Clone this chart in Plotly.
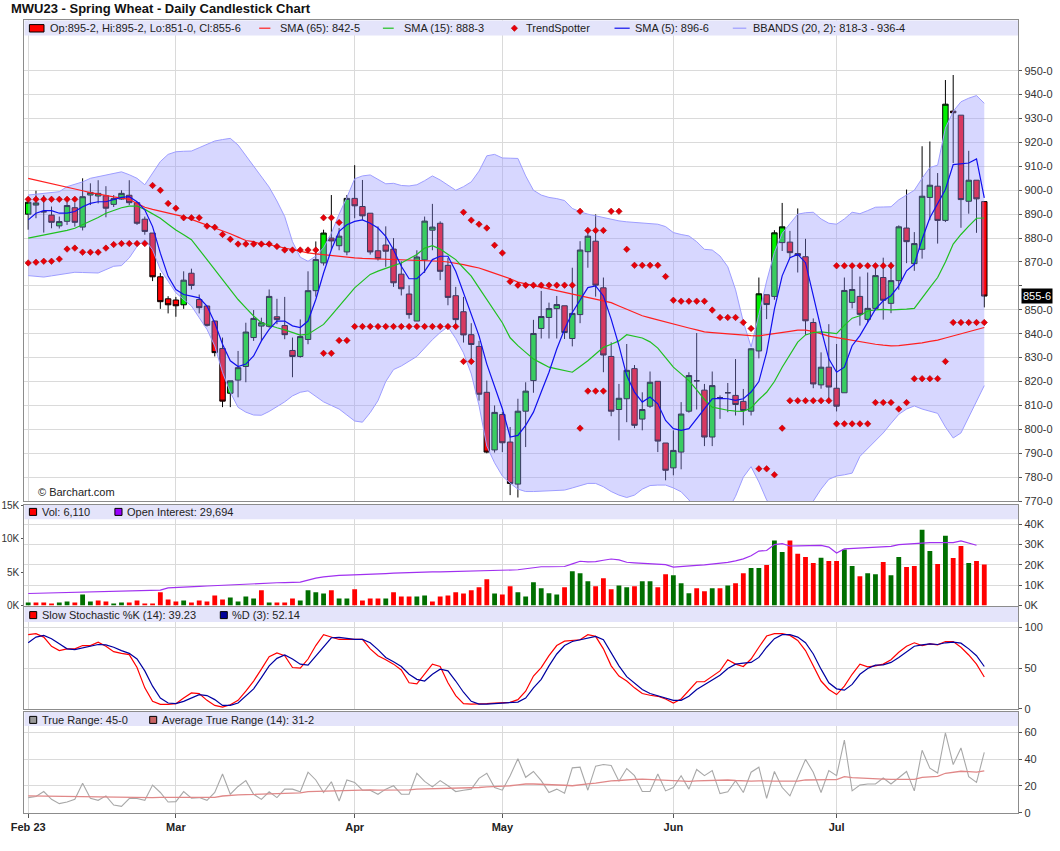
import plotly.graph_objects as go

# ---------------- data ----------------
title = "MWU23 - Spring Wheat - Daily Candlestick Chart"
month_labels = ["Feb 23", "Mar", "Apr", "May", "Jun", "Jul"]
month_index = [0, 19, 42, 61, 83, 104]
price_ticks = [770, 780, 790, 800, 810, 820, 830, 840, 850, 860, 870, 880, 890, 900, 910, 920, 930, 940, 950]

opens = [890.0, 893.8, 891.0, 889.6, 885.1, 887.0, 892.7, 884.6, 898.0, 897.6,
         897.7, 894.1, 896.3, 897.9, 894.8, 887.9, 882.1, 863.8, 854.6, 854.1,
         852.1, 865.3, 854.3, 851.6, 845.3, 833.8, 815.1, 820.6, 826.3, 838.4,
         843.2, 843.1, 847.1, 843.4, 833.0, 830.5, 837.6, 858.0, 869.6, 880.0,
         876.8, 874.2, 896.6, 893.2, 890.4, 874.7, 877.1, 875.4, 864.9, 856.6,
         845.3, 870.9, 883.3, 886.2, 868.6, 855.9, 849.2, 839.6, 834.7, 815.5,
         791.4, 806.2, 794.7, 777.1, 807.6, 820.4, 842.2, 846.8, 850.5, 851.7,
         838.0, 848.0, 874.3, 878.7, 859.2, 830.5, 808.3, 812.8, 825.4, 804.3,
         809.7, 820.1, 794.3, 783.9, 790.5, 807.6, 820.3, 816.4, 796.8, 813.3,
         815.3, 814.2, 811.7, 807.6, 832.8, 856.3, 855.6, 878.1, 878.3, 873.5,
         872.2, 844.7, 818.6, 826.0, 817.2, 815.3, 853.1, 855.6, 846.0, 850.6,
         863.5, 852.7, 862.2, 884.2, 869.3, 875.3, 897.0, 901.7, 887.4, 933.1,
         931.4, 895.4, 904.2, 895.25]
highs = [895.5, 899.8, 898.0, 893.2, 889.0, 895.0, 894.8, 905.0, 902.9, 904.2,
         901.7, 898.0, 900.0, 904.2, 894.8, 889.0, 882.1, 865.4, 855.7, 855.4,
         866.1, 867.2, 856.4, 851.6, 845.5, 838.4, 820.3, 832.8, 844.6, 849.9,
         846.7, 858.5, 854.6, 855.4, 838.4, 846.0, 866.1, 878.6, 883.5, 898.0,
         884.2, 898.0, 910.5, 904.3, 890.4, 884.9, 884.9, 880.0, 870.3, 860.2,
         874.9, 889.0, 894.3, 887.0, 871.7, 859.6, 855.4, 844.4, 837.0, 820.4,
         810.0, 807.2, 801.0, 812.8, 819.7, 845.8, 857.9, 853.0, 855.8, 851.7,
         867.6, 878.7, 884.3, 889.9, 863.5, 836.4, 819.0, 835.7, 826.9, 815.5,
         824.2, 820.1, 794.3, 799.6, 811.4, 823.9, 840.3, 819.0, 824.2, 814.2,
         819.4, 829.4, 816.9, 834.0, 863.5, 856.3, 883.3, 894.7, 883.0, 892.4,
         879.7, 846.4, 832.2, 844.0, 835.7, 863.5, 867.0, 863.9, 865.6, 869.5,
         871.8, 870.0, 885.3, 900.3, 882.5, 918.4, 920.4, 907.2, 946.1, 948.2,
         931.4, 916.5, 904.2, 895.25]
lows = [883.5, 888.3, 882.3, 884.1, 884.0, 885.5, 884.8, 883.2, 893.8, 894.5,
        888.7, 893.0, 896.0, 893.8, 885.5, 881.4, 862.0, 850.4, 848.5, 847.1,
        850.4, 858.5, 848.5, 843.0, 830.5, 809.3, 809.3, 813.4, 819.7, 837.0,
        837.0, 842.5, 844.0, 837.7, 821.8, 830.0, 835.6, 855.5, 868.5, 874.9,
        874.9, 872.8, 888.3, 887.6, 873.1, 870.6, 868.0, 859.6, 856.0, 846.3,
        845.3, 865.4, 874.9, 862.4, 851.9, 843.0, 836.3, 829.1, 812.0, 790.0,
        790.3, 790.5, 772.5, 771.5, 792.6, 815.3, 838.0, 838.0, 838.0, 837.8,
        834.7, 844.4, 867.6, 855.5, 823.9, 805.5, 795.4, 803.0, 800.5, 799.6,
        809.0, 790.5, 778.7, 780.8, 783.3, 807.0, 808.3, 793.0, 793.0, 804.4,
        807.2, 805.8, 801.7, 805.8, 829.7, 846.1, 854.2, 874.6, 871.7, 865.6,
        839.5, 817.2, 817.0, 811.4, 807.5, 815.3, 850.6, 843.4, 844.7, 850.0,
        845.9, 848.6, 858.4, 869.5, 866.3, 871.4, 887.5, 877.7, 886.7, 911.4,
        884.3, 890.2, 882.2, 851.0]
closes = [895.0, 894.7, 891.0, 886.6, 886.9, 893.6, 886.6, 897.3, 899.1, 898.7,
          892.5, 896.5, 898.7, 894.8, 886.2, 882.8, 863.8, 853.4, 852.1, 851.7,
          862.4, 860.2, 850.9, 843.5, 832.1, 811.8, 820.3, 825.8, 840.7, 846.4,
          844.6, 855.6, 845.9, 839.6, 830.5, 838.8, 858.0, 871.0, 882.1, 878.8,
          880.8, 896.6, 893.5, 889.3, 874.2, 871.4, 874.5, 861.3, 858.8, 848.0,
          872.1, 887.1, 884.6, 866.1, 855.2, 845.9, 839.5, 835.5, 814.7, 790.5,
          807.1, 794.4, 777.4, 807.6, 816.0, 840.1, 847.2, 850.5, 852.2, 840.5,
          848.5, 875.0, 880.8, 860.3, 831.1, 807.6, 813.0, 824.7, 801.7, 808.3,
          819.7, 795.1, 782.9, 791.2, 806.4, 822.5, 820.3, 796.8, 818.3, 813.3,
          815.3, 810.4, 807.9, 833.7, 856.7, 852.2, 882.2, 884.7, 873.9, 872.7,
          845.4, 819.0, 826.0, 817.7, 809.7, 858.1, 858.5, 848.1, 850.6, 864.3,
          854.0, 862.2, 884.7, 878.5, 877.7, 897.5, 902.1, 887.4, 936.0, 932.4,
          896.1, 904.2, 896.4, 855.75]

sma5 = [887.6, 890.4, 891.5, 891.5, 890.4, 890.4, 891.1, 893.1, 894.5, 895.2,
        895.2, 896.2, 897.0, 897.3, 895.2, 891.8, 884.8, 873.7, 864.0, 858.5,
        856.4, 855.7, 855.0, 851.6, 844.6, 835.6, 828.7, 826.3, 827.3, 830.7,
        837.0, 841.8, 845.3, 845.3, 843.3, 842.6, 845.3, 854.3, 865.4, 875.1,
        882.8, 885.6, 887.0, 887.6, 886.2, 884.2, 880.7, 875.1, 868.2, 863.0,
        863.0, 866.1, 871.0, 872.4, 872.4, 866.1, 857.1, 848.1, 839.1, 827.3,
        818.3, 808.6, 796.8, 797.5, 801.7, 807.2, 815.6, 823.9, 833.6, 841.9,
        848.9, 854.4, 859.3, 860.0, 855.8, 846.1, 835.0, 822.5, 815.6, 811.4,
        813.5, 810.7, 803.7, 800.3, 799.6, 800.3, 804.4, 808.6, 812.8, 813.0,
        812.8, 812.1, 812.8, 815.6, 820.0, 832.2, 850.3, 864.2, 871.8, 873.2,
        869.7, 855.9, 842.0, 829.5, 823.9, 826.0, 835.0, 839.2, 844.7, 850.3,
        853.8, 855.9, 860.0, 866.3, 869.1, 879.5, 888.5, 894.7, 900.3, 910.7,
        911.1, 911.4, 913.1, 896.8]
sma15 = [880.0, 880.6, 881.2, 881.7, 882.3, 883.2, 884.1, 885.5, 886.9, 888.6,
         890.4, 891.6, 892.7, 893.4, 893.4, 892.0, 890.2, 888.3, 885.8, 883.4,
         881.4, 879.3, 875.2, 871.0, 866.8, 862.6, 858.5, 854.3, 850.8, 847.4,
         844.6, 843.4, 842.5, 841.6, 840.5, 839.4, 839.8, 841.8, 843.9, 847.7,
         851.6, 855.4, 859.2, 862.0, 864.8, 866.2, 867.5, 868.5, 869.6, 871.3,
         873.1, 875.8, 876.8, 875.4, 873.2, 871.0, 867.5, 864.1, 859.2, 854.3,
         849.5, 844.6, 838.3, 835.0, 832.2, 829.4, 827.7, 826.0, 825.3, 824.6,
         823.9, 826.3, 828.7, 831.5, 834.3, 835.6, 837.0, 839.6, 839.0, 838.2,
         836.6, 834.0, 830.0, 826.0, 823.2, 820.4, 816.5, 812.5, 809.3, 808.5,
         808.0, 807.6, 807.5, 809.0, 812.5, 815.5, 820.0, 826.0, 831.5, 836.5,
         839.5, 840.5, 840.8, 840.3, 840.0, 843.5, 846.5, 847.5, 849.5, 850.0,
         850.2, 850.0, 850.0, 850.3, 850.6, 855.2, 859.3, 863.5, 870.0, 877.5,
         881.5, 885.0, 888.3, 888.4]
sma65 = [905.0, 904.3, 903.5, 902.6, 902.0, 901.3, 900.6, 899.8, 899.0, 898.3,
         897.7, 897.2, 896.7, 896.2, 894.5, 892.9, 892.0, 891.2, 890.4, 889.7,
         889.0, 887.8, 886.6, 885.4, 884.3, 883.2, 881.8, 880.4, 879.0, 878.5,
         877.5, 877.2, 876.5, 875.8, 875.0, 874.4, 873.8, 873.4, 873.0, 872.6,
         872.3, 872.0, 871.7, 871.5, 871.4, 871.3, 871.2, 871.0, 870.9, 870.8,
         870.7, 870.7, 870.6, 870.3, 870.0, 869.6, 868.9, 868.2, 867.5, 866.4,
         865.3, 864.2, 863.0, 861.6, 860.9, 860.2, 859.4, 858.6, 857.9, 857.2,
         856.5, 855.8, 855.1, 854.4, 853.7, 853.0, 851.6, 850.2, 848.9, 847.5,
         846.6, 845.7, 844.9, 844.0, 843.2, 842.4, 841.6, 840.8, 840.5, 840.2,
         839.9, 839.6, 839.4, 839.2, 839.1, 839.5, 840.0, 840.5, 841.0, 841.5,
         841.5, 841.0, 840.0, 839.0, 838.4, 837.8, 837.2, 836.6, 836.0, 835.6,
         835.2, 834.9, 835.0, 835.3, 835.7, 836.2, 836.8, 837.3, 838.2, 839.1,
         840.0, 840.9, 841.7, 842.6]
bb_upper = [898.0, 898.3, 898.7, 899.0, 899.4, 901.5, 902.5, 903.5, 905.0, 905.6,
            906.3, 907.0, 907.7, 906.5, 905.0, 902.3, 907.0, 912.0, 915.0, 916.1,
            916.3, 916.4, 917.8, 919.2, 920.6, 921.2, 921.7, 918.9, 914.5, 910.0,
            906.0, 901.3, 895.5, 889.0, 878.5, 872.0, 870.3, 872.5, 876.0, 882.0,
            890.0, 897.0, 904.8, 906.0, 906.4, 904.5, 902.7, 902.9, 902.0, 901.8,
            902.3, 904.0, 906.0, 904.3, 902.0, 900.0, 901.5, 903.5, 908.0, 914.4,
            915.0, 913.5, 913.4, 913.3, 906.0, 900.0, 898.0, 897.0, 896.5, 895.7,
            892.4, 891.0, 890.0, 889.3, 888.5, 887.8, 887.2, 886.8, 886.5, 886.2,
            886.0, 885.8, 884.8, 882.3, 881.5, 880.9, 878.5, 875.3, 875.0, 872.5,
            868.0, 858.4, 845.0, 834.5, 848.0, 862.0, 874.0, 882.0, 886.0, 890.0,
            890.6, 890.8, 888.0, 886.2, 885.8, 888.0, 890.8, 890.2, 891.5, 892.9,
            893.0, 893.1, 896.0, 898.0, 900.0, 905.0, 909.5, 910.5, 926.0, 933.0,
            937.0, 938.5, 939.6, 936.4]
bb_lower = [864.3, 864.0, 863.7, 864.2, 864.7, 865.2, 865.7, 865.6, 865.5, 865.4,
            866.8, 868.2, 868.5, 871.7, 876.5, 879.3, 875.1, 866.8, 862.0, 857.1,
            854.3, 851.6, 846.7, 841.8, 834.9, 823.8, 815.5, 809.2, 807.2, 806.0,
            805.9, 807.5, 809.5, 811.5, 814.0, 815.5, 816.1, 813.8, 811.5, 810.0,
            808.5, 806.0, 803.5, 803.0, 807.0, 812.0, 820.0, 825.0, 826.5, 828.5,
            830.5, 834.0, 837.5, 840.5, 842.9, 838.0, 832.0, 823.2, 810.0, 793.0,
            786.0, 780.5, 777.5, 775.0, 774.0, 774.0, 774.2, 774.4, 774.6, 774.6,
            775.5, 776.5, 777.4, 777.4, 776.0, 774.0, 772.5, 771.5, 772.5, 775.0,
            776.5, 776.7, 776.7, 775.5, 773.9, 770.5, 766.0, 763.0, 762.0, 763.0,
            766.0, 772.0, 780.0, 784.4, 778.0, 770.5, 766.0, 763.0, 762.0, 763.0,
            766.0, 770.0, 775.0, 779.1, 780.5, 781.0, 781.7, 788.7, 792.0, 795.5,
            798.5, 802.5, 806.3, 808.5, 809.8, 808.5, 807.7, 806.7, 801.0, 796.4,
            798.5, 805.0, 812.0, 818.3]

ts_x = [0, 1, 2, 3, 4, 5, 6,
        0, 1, 2, 3, 4,
        5, 6, 7, 8, 9, 10, 11, 12, 13, 14, 15,
        16, 17, 18, 19, 20, 21, 22, 23, 24, 25, 26, 27, 28, 29, 30, 31, 32, 33, 34, 35, 36, 37,
        38, 39, 40,
        38, 39, 40, 41,
        42, 43, 44, 45, 46, 47, 48, 49, 50, 51, 52, 53, 54, 55,
        56, 57, 58, 59, 60, 61, 62,
        56, 57,
        63, 64, 65, 66, 67, 68, 69, 70,
        71, 72, 73, 74, 75, 76,
        71, 72, 73, 74,
        77, 78, 79, 80, 81, 82, 83, 84, 85, 86, 87, 88, 89, 90, 91, 92, 93,
        94, 95, 96, 97,
        98, 99, 100, 101, 102, 103,
        104, 105, 106, 107, 108, 109, 110, 111,
        104, 105, 106, 107, 108,
        109, 110, 111, 112, 113,
        114, 115, 116, 117, 118, 119, 120, 121, 122, 123]
ts_y = [896.2, 896.2, 896.2, 896.2, 896.2, 896.2, 896.2,
        869.6, 869.9, 870.3, 870.3, 871.2,
        875.4, 875.8, 874.1, 874.1, 874.1, 875.8, 877.3, 877.7, 877.7, 877.7, 877.7,
        902.0, 900.0, 894.5, 892.5, 888.5, 888.5, 888.5, 885.0, 884.5, 881.5, 879.5,
        877.5, 877.5, 877.5, 877.5, 877.5, 876.5, 875.0, 875.0, 875.0, 875.0, 875.0,
        888.5, 888.5, 886.5,
        831.8, 831.8, 837.2, 837.2,
        843.0, 843.0, 843.0, 843.0, 843.0, 843.0, 843.0, 843.0, 843.0, 843.0, 843.0, 843.0, 843.0, 843.0,
        890.8, 887.5, 885.8, 884.2, 877.0, 873.8, 861.8,
        828.4, 828.4,
        860.3, 860.3, 860.3, 860.3, 860.3, 860.3, 860.3, 860.3,
        891.2, 883.2, 883.2, 883.2, 891.2, 891.2,
        800.5, 816.0, 816.0, 816.0,
        875.3, 868.6, 868.6, 868.6, 868.6, 863.9, 854.0, 853.6, 853.6, 853.6, 853.6,
        849.9, 846.8, 846.8, 846.8, 844.7, 842.2,
        783.5, 783.5, 781.0, 800.5,
        812.0, 812.0, 812.0, 812.0, 812.0, 812.0,
        868.4, 868.4, 868.4, 868.4, 868.4, 868.4, 868.4, 868.4,
        802.3, 802.3, 802.3, 802.3, 802.3,
        811.2, 811.2, 811.2, 808.5, 811.2,
        821.2, 821.2, 821.2, 821.2, 828.4, 844.7, 844.7, 844.7, 844.7, 844.7]

volume_k = [0.45, 0.45, 0.45, 0.3, 0.45, 0.6, 0.45, 1.66, 0.6, 0.75,
            0.6, 0.3, 0.45, 0.45, 0.75, 0.3, 0.3, 1.96, 0.9, 0.6,
            0.75, 0.45, 0.75, 0.6, 1.5, 0.9, 1.2, 0.6, 1.36, 1.05,
            2.26, 0.45, 0.45, 0.45, 1.05, 0.75, 2.26, 1.96, 1.8, 2.26,
            1.05, 1.05, 2.41, 0.75, 1.05, 1.05, 1.05, 1.96, 1.36, 1.36,
            1.36, 1.5, 0.6, 1.36, 1.5, 1.96, 1.8, 2.26, 2.71, 3.9,
            1.8, 1.66, 2.86, 1.96, 1.36, 3.47, 2.56, 1.81, 1.66, 2.71,
            5.13, 4.82, 3.62, 2.86, 4.07, 2.41, 3.0, 2.71, 2.86, 3.62,
            3.62, 2.71, 4.67, 4.52, 3.32, 1.81, 2.56, 2.11, 2.56, 2.56,
            3.0, 3.32, 4.82, 5.58, 5.58, 6.03, 9.7, 7.99, 9.7, 7.74,
            7.24, 6.33, 7.14, 6.63, 6.63, 8.34, 5.88, 4.37, 4.82, 4.67,
            6.48, 4.52, 7.24, 5.73, 5.88, 11.3, 8.14, 6.18, 10.4, 7.09,
            8.89, 6.33, 6.63, 6.11]
open_interest_k = [5.9, 6.0, 6.1, 6.2, 6.3, 6.4, 6.5, 6.6, 6.7, 6.8,
                   6.9, 7.0, 7.1, 7.2, 7.3, 7.4, 7.5, 7.6, 8.7, 8.8,
                   9.0, 9.2, 9.4, 9.6, 9.8, 9.9, 10.1, 10.4, 10.7, 10.9,
                   11.0, 11.1, 11.2, 11.3, 11.4, 11.5, 12.5, 13.5, 14.1, 14.6,
                   14.8, 15.0, 15.1, 15.2, 15.2, 15.4, 15.7, 15.9, 16.1, 16.3,
                   16.5, 16.6, 16.6, 16.6, 16.7, 16.7, 16.8, 16.8, 16.9, 16.9,
                   17.0, 17.1, 17.3, 17.6, 18.1, 18.6, 19.1, 19.1, 19.2, 19.2,
                   20.5, 21.8, 21.5, 21.6, 22.3, 22.9, 22.5, 21.3, 21.0, 20.8,
                   20.6, 20.3, 20.1, 18.9, 19.3, 19.6, 19.8, 20.0, 20.3, 20.7,
                   21.2, 22.0, 23.0, 24.5, 26.8, 27.1, 30.0, 30.5, 29.3, 29.4,
                   29.5, 29.6, 29.6, 28.8, 25.9, 27.9, 28.1, 28.3, 28.5, 28.7,
                   28.9, 29.1, 30.0, 30.3, 30.7, 31.0, 31.0, 31.0, 31.0, 31.0,
                   31.8, 30.8, 29.7, None]

stoch_k = [91.3, 92.5, 88.3, 77.0, 71.7, 73.8, 73.8, 77.9, 77.9, 82.0,
           77.0, 70.4, 68.3, 66.7, 50.8, 25.8, 9.2, 5.4, 5.4, 6.3,
           13.3, 19.6, 18.8, 10.4, 4.2, 2.1, 5.0, 10.4, 21.7, 34.2,
           48.8, 64.2, 68.8, 65.4, 50.8, 50.0, 61.3, 77.9, 91.3, 88.3,
           85.4, 85.4, 85.4, 85.4, 73.8, 65.4, 60.4, 55.0, 47.9, 32.1,
           30.8, 42.5, 55.0, 52.1, 32.1, 16.3, 6.3, 5.8, 5.8, 6.3,
           7.1, 7.1, 7.9, 11.3, 21.7, 40.4, 50.8, 65.4, 77.9, 83.3,
           84.2, 85.0, 91.3, 89.2, 73.8, 52.9, 40.4, 34.2, 25.8, 18.8,
           16.7, 15.4, 12.1, 7.1, 12.1, 22.5, 33.3, 33.3, 40.4, 46.7,
           60.4, 55.0, 52.1, 61.3, 75.8, 89.6, 92.5, 92.5, 90.4, 84.2,
           71.7, 52.9, 34.2, 23.8, 17.5, 27.9, 42.5, 55.0, 51.7, 52.9,
           55.0, 60.4, 69.6, 77.0, 81.3, 77.9, 80.0, 78.8, 82.9, 82.9,
           75.8, 66.3, 55.0, 39.2]
stoch_d = [81.3, 88.3, 90.4, 86.3, 80.0, 73.8, 72.9, 75.0, 76.7, 79.2,
           78.8, 75.8, 71.7, 68.3, 61.3, 46.7, 27.9, 13.3, 7.1, 6.3,
           9.2, 13.3, 17.5, 16.3, 11.3, 4.2, 4.2, 7.1, 15.4, 24.6,
           38.3, 52.9, 62.1, 66.3, 61.3, 55.0, 53.8, 65.4, 77.0, 87.5,
           87.9, 86.3, 85.4, 85.4, 81.3, 72.9, 63.3, 57.9, 52.1, 42.5,
           36.3, 34.2, 42.5, 48.8, 46.7, 34.2, 20.4, 9.2, 5.8, 5.8,
           6.3, 7.1, 7.1, 8.3, 13.3, 25.8, 36.3, 52.9, 67.5, 77.9,
           82.9, 85.0, 87.5, 89.2, 85.0, 69.6, 52.9, 39.6, 31.3, 23.8,
           18.8, 16.3, 13.3, 10.4, 10.4, 15.4, 23.8, 30.0, 35.4, 41.3,
           49.6, 55.0, 56.3, 57.1, 63.3, 75.8, 86.3, 91.3, 91.3, 88.3,
           81.3, 67.5, 48.8, 32.1, 24.6, 22.9, 30.0, 42.5, 49.6, 53.8,
           54.2, 57.1, 63.3, 70.4, 77.0, 78.8, 80.0, 79.2, 81.3, 82.1,
           80.8, 73.8, 65.4, 52.1]

true_range = [11.3, 12.1, 15.8, 10.0, 6.8, 8.0, 10.0, 21.9, 10.8, 9.3,
              12.6, 5.8, 4.8, 10.6, 10.6, 9.3, 20.6, 15.1, 8.0, 8.3,
              15.8, 10.8, 11.3, 9.3, 15.1, 28.9, 13.8, 19.6, 23.9, 13.8,
              10.0, 15.6, 11.3, 17.6, 17.6, 15.6, 30.2, 24.4, 15.1, 23.1,
              8.8, 24.4, 22.6, 16.8, 16.8, 13.8, 17.6, 20.1, 13.8, 13.8,
              29.4, 23.4, 19.3, 23.9, 20.1, 15.8, 16.8, 17.6, 25.6, 29.4,
              18.8, 16.8, 27.6, 40.2, 26.4, 30.7, 23.9, 15.1, 17.6, 14.6,
              33.4, 33.9, 16.8, 34.7, 35.9, 35.2, 23.4, 32.9, 27.6, 15.8,
              15.8, 28.9, 16.3, 18.8, 27.6, 17.6, 32.2, 27.6, 31.4, 14.3,
              15.6, 23.9, 15.1, 30.2, 33.9, 10.8, 30.7, 18.8, 12.6, 26.4,
              39.7, 30.2, 15.1, 31.4, 27.6, 54.0, 16.3, 20.6, 21.4, 21.4,
              25.9, 21.4, 25.9, 30.7, 16.3, 46.5, 33.2, 29.6, 59.5, 35.9,
              48.2, 26.9, 22.6, 45.0]
avg_true_range = [12.6, 12.5, 12.5, 12.4, 12.3, 12.2, 12.1, 12.1, 12.0, 11.9,
                  11.8, 11.7, 11.6, 11.5, 11.4, 11.3, 11.3, 11.4, 11.4, 11.4,
                  11.3, 11.3, 11.3, 11.3, 11.5, 12.5, 13.1, 13.3, 13.5, 13.7,
                  13.8, 14.0, 14.2, 14.4, 14.6, 14.8, 15.8, 16.0, 16.2, 16.5,
                  16.5, 16.7, 16.8, 16.9, 17.0, 16.9, 16.9, 17.0, 17.0, 17.1,
                  17.6, 17.7, 17.8, 17.9, 18.0, 18.1, 18.3, 18.5, 18.8, 19.3,
                  19.5, 19.6, 20.1, 20.8, 21.4, 21.4, 21.3, 21.0, 20.8, 20.5,
                  20.1, 21.0, 21.5, 22.1, 23.0, 23.8, 24.0, 24.6, 24.8, 25.1,
                  24.8, 24.6, 23.9, 23.6, 23.5, 23.4, 23.8, 24.0, 24.4, 24.2,
                  24.4, 24.0, 23.6, 23.6, 23.8, 23.4, 23.5, 23.6, 23.3, 23.5,
                  24.4, 24.6, 24.4, 24.6, 24.6, 26.9, 26.2, 25.8, 25.5, 25.3,
                  25.1, 24.9, 24.8, 24.4, 24.8, 26.4, 26.8, 27.1, 29.4, 30.0,
                  30.9, 30.6, 30.2, 31.2]

legend_ohlc = "Op:895-2, Hi:895-2, Lo:851-0, Cl:855-6"
legend_sma65 = "SMA (65): 842-5"
legend_sma15 = "SMA (15): 888-3"
legend_sma5 = "SMA (5): 896-6"
legend_bb = "BBANDS (20, 2): 818-3 - 936-4"
legend_vol = "Vol: 6,110"
legend_oi = "Open Interest: 29,694"
legend_k = "Slow Stochastic %K (14): 39.23"
legend_d = "%D (3): 52.14"
legend_tr = "True Range: 45-0"
legend_atr = "Average True Range (14): 31-2"
last_price_label = "855-6"
last_price = 855.75

# ---------------- layout geometry (pixels) ----------------
W, H = 1060, 851
FONT = "Liberation Sans, Arial, sans-serif"
GRID = "#dadada"
FRAME = "#8c8c8c"
BAND = "#e4e4fa"

X0, X1 = 24.3, 1018.3          # plot frame left/right
C0, DX = 28.2, 7.773           # first candle centre, candle spacing
x_rng = [(X0 - C0) / DX, (X1 - C0) / DX]

def dom(top, bot):
    return [1 - bot / H, 1 - top / H]

def rng(top, bot, va, pa, vb, pb):
    ppu = (pb - pa) / (va - vb)
    return [vb - (bot - pb) / ppu, va + (pa - top) / ppu], ppu

MAIN = (20.3, 501.1)
VOL = (504.5, 605.5)
STO = (607.0, 708.8)
TRP = (712.0, 812.8)

main_rng, main_ppu = rng(*MAIN, 950, 70.7, 770, 501.1)
vol_rng, vol_ppu = rng(*VOL, 15, 505.0, 0, 605.5)
oi_rng, oi_ppu = rng(*VOL, 40, 524.3, 0, 605.5)
sto_rng, sto_ppu = rng(*STO, 100, 627.6, 0, 708.8)
tr_rng, tr_ppu = rng(*TRP, 60, 732.1, 0, 812.8)

idx = list(range(len(closes)))

fig = go.Figure()

# ---- main panel ----
fig.add_trace(go.Scatter(x=idx, y=bb_lower, mode="lines", line=dict(color="#9d9dff", width=1),
                         xaxis="x", yaxis="y", hoverinfo="skip"))
fig.add_trace(go.Scatter(x=idx, y=bb_upper, mode="lines", line=dict(color="#9d9dff", width=1),
                         fill="tonexty", fillcolor="rgba(150,150,255,0.38)",
                         xaxis="x", yaxis="y", hoverinfo="skip"))
fig.add_trace(go.Candlestick(x=idx, open=opens, high=highs, low=lows, close=closes,
                             increasing=dict(fillcolor="#00ee00", line=dict(color="#000000", width=1)),
                             decreasing=dict(fillcolor="#ff0000", line=dict(color="#000000", width=1)),
                             whiskerwidth=0, xaxis="x", yaxis="y", hoverinfo="skip"))
fig.add_trace(go.Scatter(x=idx, y=sma65, mode="lines", line=dict(color="#ff2020", width=1.2),
                         xaxis="x", yaxis="y", hoverinfo="skip"))
fig.add_trace(go.Scatter(x=idx, y=sma15, mode="lines", line=dict(color="#20c020", width=1.2),
                         xaxis="x", yaxis="y", hoverinfo="skip"))
fig.add_trace(go.Scatter(x=idx, y=sma5, mode="lines", line=dict(color="#1010ee", width=1.2),
                         xaxis="x", yaxis="y", hoverinfo="skip"))
fig.add_trace(go.Scatter(x=ts_x, y=ts_y, mode="markers",
                         marker=dict(symbol="diamond", size=5, color="#e8000a",
                                     line=dict(color="#a00000", width=0.5)),
                         xaxis="x", yaxis="y", hoverinfo="skip"))

# ---- volume panel ----
vol_colors = ["#006f00"] + ["#006f00" if closes[i] >= closes[i - 1] else "#ff0000" for i in range(1, len(closes))]
fig.add_trace(go.Bar(x=idx, y=volume_k, marker=dict(color=vol_colors, line=dict(width=0)), width=0.62,
                     xaxis="x2", yaxis="y2", hoverinfo="skip"))
fig.add_trace(go.Scatter(x=idx, y=open_interest_k, mode="lines", line=dict(color="#a030f0", width=1.2),
                         xaxis="x2", yaxis="y3", hoverinfo="skip"))

# ---- stochastic panel ----
fig.add_trace(go.Scatter(x=idx, y=stoch_k, mode="lines", line=dict(color="#ff0000", width=1.2),
                         xaxis="x3", yaxis="y4", hoverinfo="skip"))
fig.add_trace(go.Scatter(x=idx, y=stoch_d, mode="lines", line=dict(color="#0000a0", width=1.2),
                         xaxis="x3", yaxis="y4", hoverinfo="skip"))

# ---- true range panel ----
fig.add_trace(go.Scatter(x=idx, y=true_range, mode="lines", line=dict(color="#a8a8a8", width=1.1),
                         xaxis="x4", yaxis="y5", hoverinfo="skip"))
fig.add_trace(go.Scatter(x=idx, y=avg_true_range, mode="lines", line=dict(color="#e08888", width=1.3),
                         xaxis="x4", yaxis="y5", hoverinfo="skip"))

# ---------------- axes ----------------
tickfont = dict(family=FONT, size=11, color="#333333")
xdom = [X0 / W, X1 / W]

def xaxis(anchor, labels=False):
    d = dict(domain=xdom, range=x_rng, anchor=anchor, tickmode="array", tickvals=month_index,
             showgrid=True, gridcolor=GRID, gridwidth=1, zeroline=False, automargin=False,
             showline=True, mirror=True, linecolor=FRAME, linewidth=1,
             fixedrange=True, rangeslider=dict(visible=False))
    if labels:
        d.update(ticktext=["<b>%s</b>" % m for m in month_labels], ticks="outside", ticklen=4,
                 tickcolor="#555555", tickfont=dict(family=FONT, size=11, color="#222222"))
    else:
        d.update(showticklabels=False, ticks="")
    return d

def yaxis(anchor, dm, r, tv, tt, side="right", grid=True, font=tickfont, ticklen=3):
    return dict(domain=dm, range=r, anchor=anchor, side=side, tickmode="array", tickvals=tv, ticktext=tt,
                showgrid=grid, gridcolor=GRID, gridwidth=1, zeroline=False, automargin=False,
                showline=True, mirror=True, linecolor=FRAME, linewidth=1,
                ticks="outside", ticklen=ticklen, tickcolor="#555555", tickfont=font, fixedrange=True)

price_text = ["" if v == 860 else "%d-0" % v for v in price_ticks]

layout = dict(
    template="none",
    width=W, height=H, autosize=False,
    margin=dict(l=0, r=0, t=0, b=0, pad=0, autoexpand=False),
    paper_bgcolor="white", plot_bgcolor="white",
    showlegend=False, hovermode=False, dragmode=False,
    font=dict(family=FONT, size=11, color="#222222"),
    xaxis=xaxis("y"),
    xaxis2=xaxis("y2"),
    xaxis3=xaxis("y4"),
    xaxis4=xaxis("y5", labels=True),
    yaxis=yaxis("x", dom(*MAIN), main_rng, price_ticks, price_text),
    yaxis2=yaxis("x2", dom(*VOL), vol_rng, [0, 5, 10, 15], ["0K", "5K", "10K", "15K"], side="left", grid=False,
                 font=dict(family=FONT, size=10, color="#333333"), ticklen=2),
    yaxis3=dict(domain=dom(*VOL), range=oi_rng, anchor="x2", overlaying="y2", side="right",
                tickmode="array", tickvals=[0, 10, 20, 30, 40], ticktext=["0K", "10K", "20K", "30K", "40K"],
                showgrid=True, gridcolor=GRID, gridwidth=1, zeroline=False, showline=False, automargin=False,
                ticks="outside", ticklen=3, tickcolor="#555555", tickfont=tickfont, fixedrange=True),
    yaxis4=yaxis("x3", dom(*STO), sto_rng, [0, 50, 100], ["0", "50", "100"]),
    yaxis5=yaxis("x4", dom(*TRP), tr_rng, [0, 20, 40, 60], ["0", "20", "40", "60"]),
    bargap=0.38,
    boxgap=0.0,
    boxgroupgap=0.3,
)
fig.update_layout(**layout)

# ---------------- legend bands & legend items ----------------
def px_to_val(p, anchor_v, anchor_p, ppu):
    return anchor_v + (anchor_p - p) / ppu

shapes = []
bands = [("x", "y", main_rng[1], px_to_val(35.5, 950, 70.7, main_ppu)),
         ("x2", "y2", vol_rng[1], px_to_val(519.3, 0, 605.5, vol_ppu)),
         ("x3", "y4", sto_rng[1], px_to_val(622.0, 0, 708.8, sto_ppu)),
         ("x4", "y5", tr_rng[1], px_to_val(726.0, 0, 812.8, tr_ppu))]
for xr_, yr_, ytop, ybot in bands:
    shapes.append(dict(type="rect", xref=xr_, yref=yr_, x0=x_rng[0], x1=x_rng[1], y0=ybot, y1=ytop,
                       fillcolor=BAND, line=dict(width=0), layer="between"))

def P(x, y):
    return x / W, 1 - y / H

def rect(x0, y0, x1, y1, color):
    a, b = P(x0, y1)
    c, d = P(x1, y0)
    shapes.append(dict(type="rect", xref="paper", yref="paper", x0=a, y0=b, x1=c, y1=d,
                       fillcolor=color, line=dict(color="#000000", width=1), layer="above"))

def hline(x0, x1, y, color):
    a, b = P(x0, y)
    c, _ = P(x1, y)
    shapes.append(dict(type="line", xref="paper", yref="paper", x0=a, y0=b, x1=c, y1=b,
                       line=dict(color=color, width=1.2), layer="above"))

def diamond(x, y, r, color):
    pts = [P(x, y - r), P(x + r, y), P(x, y + r), P(x - r, y)]
    path = "M %f,%f L %f,%f L %f,%f L %f,%f Z" % (pts[0] + pts[1] + pts[2] + pts[3])
    shapes.append(dict(type="path", xref="paper", yref="paper", path=path,
                       fillcolor=color, line=dict(color="#b00000", width=0.5), layer="above"))

annotations = []

def text(x, y, s, size=11, color="#222222", **kw):
    a, b = P(x, y)
    d = dict(xref="paper", yref="paper", x=a, y=b, text=s, showarrow=False, xanchor="left", yanchor="middle",
             font=dict(family=FONT, size=size, color=color), borderpad=0)
    d.update(kw)
    annotations.append(d)

# title
text(9.5, 8.5, "<b>%s</b>" % title, size=13, color="#111111")

# main legend
ym = 28.2
rect(29.4, 24.6, 44.0, 32.0, "#ff0000")
text(48.5, ym, legend_ohlc)
hline(259.2, 270.4, ym, "#ff2020")
text(278.7, ym, legend_sma65)
hline(382.9, 393.7, ym, "#20c020")
text(402.7, ym, legend_sma15)
diamond(514.4, ym, 3.2, "#e8000a")
text(525.0, ym, "TrendSpotter")
hline(614.5, 629.7, ym, "#1010ee")
text(633.6, ym, legend_sma5)
hline(732.8, 746.3, ym, "#9d9dff")
text(751.5, ym, legend_bb)

# volume legend
yv = 511.9
rect(29.4, 508.4, 36.6, 515.4, "#ff0000")
text(40.7, yv, legend_vol)
rect(114.9, 508.4, 122.0, 515.4, "#9900ff")
text(125.6, yv, legend_oi)

# stochastic legend
ys = 615.1
rect(29.7, 611.6, 36.7, 618.6, "#ff0000")
text(40.7, ys, legend_k)
rect(220.3, 611.6, 227.3, 618.6, "#000099")
text(231.3, ys, legend_d)

# true range legend
yt = 719.9
rect(29.7, 716.4, 36.7, 723.4, "#999999")
text(40.7, yt, legend_tr)
rect(149.7, 716.4, 156.7, 723.4, "#c86464")
text(160.7, yt, legend_atr)

# copyright
text(36.5, 491.6, "\u00a9 Barchart.com", size=11, color="#222222")

# last price box
annotations.append(dict(xref="paper", yref="y", x=1021.0 / W, y=last_price, text=last_price_label,
                        showarrow=False, xanchor="left", yanchor="middle", bgcolor="#000000",
                        font=dict(family=FONT, size=11, color="#ffffff"), borderpad=1))

fig.update_layout(shapes=shapes, annotations=annotations)

page_fix = ("document.documentElement.style.margin='0';document.documentElement.style.padding='0';"
            "document.body.style.margin='0';document.body.style.padding='0';"
            "document.documentElement.style.overflow='hidden';document.body.style.overflow='hidden';")

fig.write_html("out.html", config={"displayModeBar": False, "staticPlot": True}, post_script=page_fix)
